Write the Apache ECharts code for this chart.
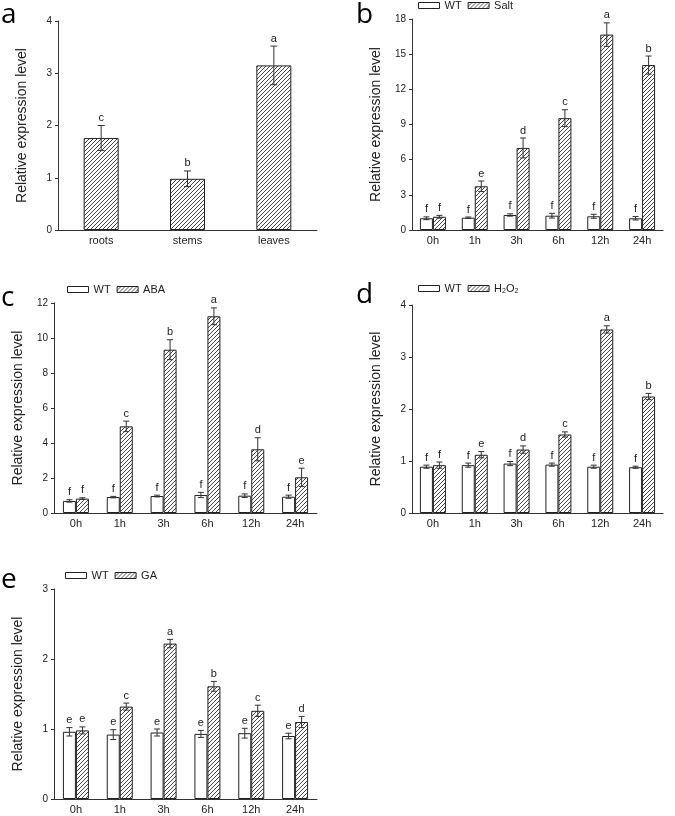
<!DOCTYPE html>
<html><head><meta charset="utf-8">
<script src="https://cdn.jsdelivr.net/npm/echarts@6/dist/echarts.min.js"></script>
<style>html,body{margin:0;padding:0;background:#fff}#c{width:675px;height:816px}</style>
</head><body><div id="c"></div><script>
// ---------- data ----------
const tissues = ['roots', 'stems', 'leaves'];
const tissueVals = [1.76, 0.98, 3.15];
const tissueErr = [0.24, 0.15, 0.37];
const tissueSig = ['c', 'b', 'a'];

const hours = ['0h', '1h', '3h', '6h', '12h', '24h'];

const saltWT = [1.00, 1.05, 1.28, 1.22, 1.17, 1.00];
const saltWTErr = [0.12, 0.06, 0.10, 0.20, 0.17, 0.15];
const saltWTSig = ['f', 'f', 'f', 'f', 'f', 'f'];
const saltT = [1.13, 3.73, 7.00, 9.54, 16.67, 14.07];
const saltTErr = [0.12, 0.45, 0.85, 0.72, 1.00, 0.77];
const saltTSig = ['f', 'e', 'd', 'c', 'a', 'b'];

const abaWT = [0.69, 0.91, 0.97, 1.03, 0.99, 0.93];
const abaWTErr = [0.07, 0.04, 0.05, 0.15, 0.10, 0.09];
const abaWTSig = ['f', 'f', 'f', 'f', 'f', 'f'];
const abaT = [0.82, 4.95, 9.33, 11.24, 3.64, 2.04];
const abaTErr = [0.05, 0.30, 0.57, 0.48, 0.66, 0.52];
const abaTSig = ['f', 'c', 'b', 'a', 'd', 'e'];

const h2o2WT = [0.89, 0.92, 0.95, 0.93, 0.89, 0.88];
const h2o2WTErr = [0.03, 0.04, 0.04, 0.03, 0.03, 0.02];
const h2o2WTSig = ['f', 'f', 'f', 'f', 'f', 'f'];
const h2o2T = [0.92, 1.12, 1.22, 1.51, 3.53, 2.24];
const h2o2TErr = [0.06, 0.06, 0.07, 0.05, 0.07, 0.06];
const h2o2TSig = ['f', 'e', 'd', 'c', 'a', 'b'];

const gaWT = [0.96, 0.92, 0.95, 0.93, 0.94, 0.90];
const gaWTErr = [0.06, 0.07, 0.05, 0.05, 0.07, 0.04];
const gaWTSig = ['e', 'e', 'e', 'e', 'e', 'e'];
const gaT = [0.98, 1.32, 2.22, 1.61, 1.26, 1.10];
const gaTErr = [0.05, 0.05, 0.06, 0.07, 0.08, 0.08];
const gaTSig = ['e', 'c', 'a', 'b', 'c', 'd'];

const yMaxes = [4, 18, 12, 4, 3];
const yIntervals = [1, 3, 2, 1, 1];
const panelLetters = ['a', 'b', 'c', 'd', 'e'];
const yName = 'Relative expression level';

// ---------- styling ----------
const FONT = '"Liberation Sans", Arial, Helvetica, sans-serif';
const INK = '#222';

function makeHatch() {
  const s = 4;
  const c = document.createElement('canvas');
  c.width = s; c.height = s;
  const g = c.getContext('2d');
  g.fillStyle = '#fff'; g.fillRect(0, 0, s, s);
  g.strokeStyle = '#333'; g.lineWidth = 0.9;
  g.beginPath();
  g.moveTo(0, s); g.lineTo(s, 0);
  g.moveTo(-1, 1); g.lineTo(1, -1);
  g.moveTo(s - 1, s + 1); g.lineTo(s + 1, s - 1);
  g.stroke();
  return c;
}
const hatch = { image: makeHatch(), repeat: 'repeat' };

const grids = [
  { left: 58, top: 21, width: 259, height: 209 },
  { left: 412, top: 19, width: 251, height: 211 },
  { left: 54, top: 303, width: 263, height: 210 },
  { left: 412, top: 305, width: 251, height: 208 },
  { left: 54, top: 589, width: 263, height: 210 }
];

const xAxes = grids.map((g, i) => ({
  type: 'category', gridIndex: i, data: i === 0 ? tissues : hours,
  axisLine: { lineStyle: { color: '#333', width: 1 } },
  axisTick: { alignWithLabel: true, length: 3, lineStyle: { color: '#333' } },
  axisLabel: { fontSize: 11, color: INK, margin: 5, fontFamily: FONT }
}));

const yAxes = grids.map((g, i) => ({
  type: 'value', gridIndex: i, min: 0, max: yMaxes[i], interval: yIntervals[i],
  axisLine: { show: true, lineStyle: { color: '#333', width: 1 } },
  axisTick: { show: true, length: 3, lineStyle: { color: '#333' } },
  splitLine: { show: false },
  axisLabel: { fontSize: 10, color: INK, margin: 6, fontFamily: FONT },
  name: yName, nameLocation: 'middle', nameGap: 29,
  nameTextStyle: { fontSize: 14, color: INK, fontFamily: FONT }
}));

function errSeries(gi, vals, errs, sigs, offset, cap) {
  return {
    type: 'custom', xAxisIndex: gi, yAxisIndex: gi, z: 10,
    data: vals.map((v, i) => [i, v, errs[i]]),
    renderItem(params, api) {
      const i = api.value(0), v = api.value(1), e = api.value(2);
      const top = api.coord([i, v + e]);
      const bot = api.coord([i, v - e]);
      const x = top[0] + offset;
      const ls = { stroke: '#333', lineWidth: 1 };
      return {
        type: 'group', children: [
          { type: 'line', shape: { x1: x, y1: top[1], x2: x, y2: bot[1] }, style: ls },
          { type: 'line', shape: { x1: x - cap / 2, y1: top[1], x2: x + cap / 2, y2: top[1] }, style: ls },
          { type: 'line', shape: { x1: x - cap / 2, y1: bot[1], x2: x + cap / 2, y2: bot[1] }, style: ls },
          { type: 'text', x: x, y: top[1] - 2,
            style: { text: sigs[params.dataIndex], fontSize: 11, fontFamily: FONT, fill: INK,
                     align: 'center', verticalAlign: 'bottom' } }
        ]
      };
    }
  };
}

const BW = 13;
const wtStyle = { color: '#fff', borderColor: '#222', borderWidth: 1 };
const tStyle = { color: hatch, borderColor: '#222', borderWidth: 1 };

const series = [];
series.push({ type: 'bar', name: 'Tissue', xAxisIndex: 0, yAxisIndex: 0, data: tissueVals,
  barWidth: 35, itemStyle: tStyle });
series.push(errSeries(0, tissueVals, tissueErr, tissueSig, 0, 7));

const timePanels = [
  [1, 'Salt', saltWT, saltWTErr, saltWTSig, saltT, saltTErr, saltTSig],
  [2, 'ABA', abaWT, abaWTErr, abaWTSig, abaT, abaTErr, abaTSig],
  [3, 'H2O2', h2o2WT, h2o2WTErr, h2o2WTSig, h2o2T, h2o2TErr, h2o2TSig],
  [4, 'GA', gaWT, gaWTErr, gaWTSig, gaT, gaTErr, gaTSig]
];
timePanels.forEach(([gi, tname, wv, we, ws, tv, te, ts]) => {
  series.push({ type: 'bar', name: 'WT', xAxisIndex: gi, yAxisIndex: gi, data: wv,
    barWidth: BW, barGap: '0%', itemStyle: wtStyle });
  series.push({ type: 'bar', name: tname, xAxisIndex: gi, yAxisIndex: gi, data: tv,
    barWidth: BW, barGap: '0%', itemStyle: tStyle });
  series.push(errSeries(gi, wv, we, ws, -BW / 2, 6));
  series.push(errSeries(gi, tv, te, ts, BW / 2, 6));
});

const legendBase = {
  icon: 'rect', itemWidth: 21, itemHeight: 6, itemGap: 6, padding: 0, selectedMode: false,
  itemStyle: { borderWidth: 1, borderColor: '#222' },
  textStyle: { fontSize: 11, color: INK, fontFamily: FONT,
    rich: { sub: { fontSize: 7, verticalAlign: 'bottom', padding: [5, 0, 0, 0], fontFamily: FONT, color: INK } } },
  formatter: n => n === 'H2O2' ? 'H{sub|2}O{sub|2}' : n
};
const legends = [
  Object.assign({}, legendBase, { data: ['WT', 'Salt'], left: 418, top: 0 }),
  Object.assign({}, legendBase, { data: ['WT', 'ABA'], left: 67, top: 284 }),
  Object.assign({}, legendBase, { data: ['WT', 'H2O2'], left: 418, top: 283 }),
  Object.assign({}, legendBase, { data: ['WT', 'GA'], left: 65, top: 570 })
];

const letterPos = [[1, 1], [356, 1], [1, 284], [356, 281], [1, 566]];
const graphic = panelLetters.map((t, i) => ({
  type: 'text', left: letterPos[i][0], top: letterPos[i][1],
  style: { text: t, font: '28px "Open Sans", "Noto Sans", sans-serif', fill: '#000' }
}));

const chart = echarts.init(document.getElementById('c'));
chart.setOption({
  animation: false,
  backgroundColor: '#fff',
  grid: grids,
  xAxis: xAxes,
  yAxis: yAxes,
  legend: legends,
  graphic: graphic,
  series: series
});
</script></body></html>
